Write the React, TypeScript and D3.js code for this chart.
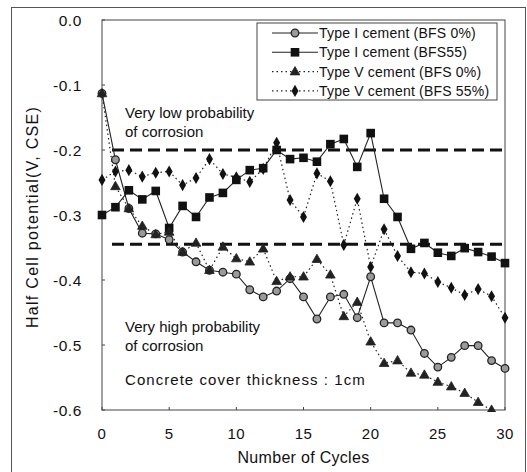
import React from "react";
import * as d3 from "d3";

const cycles = d3.range(0, 31);
const typeI_BFS0 = [-0.113, -0.215, -0.29, -0.328, -0.329, -0.338, -0.357, -0.372, -0.385, -0.388, -0.391, -0.415, -0.426, -0.417, -0.398, -0.426, -0.46, -0.426, -0.422, -0.458, -0.395, -0.466, -0.466, -0.477, -0.513, -0.534, -0.519, -0.501, -0.501, -0.524, -0.536];
const typeI_BFS55 = [-0.3, -0.288, -0.262, -0.276, -0.263, -0.32, -0.286, -0.303, -0.273, -0.266, -0.246, -0.231, -0.228, -0.2, -0.214, -0.212, -0.218, -0.191, -0.183, -0.226, -0.174, -0.275, -0.303, -0.352, -0.343, -0.358, -0.363, -0.351, -0.357, -0.364, -0.374];
const typeV_BFS0 = [-0.113, -0.256, -0.29, -0.317, -0.33, -0.326, -0.357, -0.343, -0.385, -0.349, -0.367, -0.372, -0.352, -0.402, -0.395, -0.395, -0.368, -0.392, -0.456, -0.434, -0.495, -0.528, -0.524, -0.543, -0.546, -0.557, -0.564, -0.574, -0.588, -0.6];
const typeV_BFS55 = [-0.246, -0.233, -0.231, -0.241, -0.235, -0.233, -0.254, -0.243, -0.214, -0.237, -0.242, -0.249, -0.229, -0.189, -0.277, -0.303, -0.236, -0.248, -0.346, -0.275, -0.38, -0.322, -0.363, -0.388, -0.39, -0.403, -0.412, -0.423, -0.414, -0.425, -0.458];
const thresholds = [-0.2, -0.345];
const xTicks = [0, 5, 10, 15, 20, 25, 30];
const yTicks = [0, -0.1, -0.2, -0.3, -0.4, -0.5, -0.6];
const legendLabels = [
  "Type I cement (BFS 0%)",
  "Type I cement (BFS55)",
  "Type V cement (BFS 0%)",
  "Type V cement (BFS 55%)",
];

const W = 527;
const H = 472;
const left = 102, right = 505, top = 20, bottom = 410;
const x = d3.scaleLinear().domain([0, 30]).range([left, right]);
const y = d3.scaleLinear().domain([-0.6, 0]).range([bottom, top]);
const FONT = "'Liberation Sans', Arial, sans-serif";

type Kind = "circle" | "square" | "triangle" | "diamond";

function Marker({ kind, cx, cy }: { kind: Kind; cx: number; cy: number }) {
  if (kind === "circle")
    return <circle cx={cx} cy={cy} r={3.8} fill="#9a9a9a" stroke="#222" strokeWidth={1.3} />;
  if (kind === "square")
    return <rect x={cx - 4.3} y={cy - 4.3} width={8.6} height={8.6} fill="#111" />;
  if (kind === "triangle") {
    const p = d3.symbol().type(d3.symbolTriangle).size(40)();
    return <path d={p as string} transform={`translate(${cx},${cy + 0.5})`} fill="#222" stroke="#222" strokeWidth={0.8} />;
  }
  const p = d3.symbol().type(d3.symbolDiamond).size(42)();
  return <path d={p as string} transform={`translate(${cx},${cy})`} fill="#111" />;
}

const series: { data: number[]; kind: Kind; dash?: string }[] = [
  { data: typeI_BFS0, kind: "circle" },
  { data: typeI_BFS55, kind: "square" },
  { data: typeV_BFS0, kind: "triangle", dash: "1.5 3" },
  { data: typeV_BFS55, kind: "diamond", dash: "1.5 3" },
];

export default function App() {
  const line = d3
    .line<number>()
    .x((_, i) => x(cycles[i]))
    .y((d) => y(d));
  const legX = 257, legY = 23, legW = 240, legH = 77;
  return (
    <svg
      width={W}
      height={H}
      viewBox={`0 0 ${W} ${H}`}
      style={{ position: "absolute", left: 0, top: 0, display: "block", background: "#fff" }}
      fontFamily={FONT}
    >
      <defs>
        <clipPath id="plotclip">
          <rect x={left - 6} y={top - 6} width={right - left + 12} height={bottom - top + 8} />
        </clipPath>
      </defs>
      {/* outer frame */}
      <rect x={11.5} y={7.5} width={514} height={480} fill="none" stroke="#555" strokeWidth={1} />
      {/* plot frame */}
      <rect x={left} y={top} width={right - left} height={bottom - top} fill="none" stroke="#444" strokeWidth={1} />
      {/* ticks */}
      {xTicks.map((t) => (
        <g key={"xt" + t}>
          <line x1={x(t)} x2={x(t)} y1={bottom} y2={bottom - 3} stroke="#444" />
          <text x={x(t)} y={439} textAnchor="middle" fontSize={15} letterSpacing={0.5} fill="#111">
            {t}
          </text>
        </g>
      ))}
      {yTicks.map((t) => (
        <g key={"yt" + t}>
          <line x1={left} x2={left + 3} y1={y(t)} y2={y(t)} stroke="#444" />
          <text x={82} y={y(t) + 5.5} textAnchor="end" fontSize={15.5} letterSpacing={0.6} fill="#111">
            {t === 0 ? "0.0" : t.toFixed(1)}
          </text>
        </g>
      ))}
      {/* axis titles */}
      <text x={(left + right) / 2} y={463} textAnchor="middle" fontSize={16} letterSpacing={0.3} fill="#111">
        Number of Cycles
      </text>
      <text
        transform={`translate(38,${(top + bottom) / 2 + 2}) rotate(-90)`}
        textAnchor="middle"
        fontSize={16}
        letterSpacing={1.3}
        fill="#111"
      >
        Half Cell potential(V, CSE)
      </text>
      {/* threshold lines */}
      {thresholds.map((t) => (
        <line
          key={"th" + t}
          x1={112}
          x2={right}
          y1={y(t)}
          y2={y(t)}
          stroke="#111"
          strokeWidth={3}
          strokeDasharray="12 6"
        />
      ))}
      {/* annotations */}
      <text x={125} y={118} fontSize={15} fill="#111">Very low probability</text>
      <text x={125} y={137} fontSize={15} fill="#111">of corrosion</text>
      <text x={125} y={332} fontSize={15} fill="#111">Very high probability</text>
      <text x={125} y={351} fontSize={15} fill="#111">of corrosion</text>
      <text x={125} y={385} fontSize={15} fill="#111" letterSpacing={1.05}>
        Concrete cover thickness : 1cm
      </text>
      {/* series */}
      <g clipPath="url(#plotclip)">
        {series.map((s, si) => (
          <path
            key={"l" + si}
            d={line(s.data) as string}
            fill="none"
            stroke="#222"
            strokeWidth={s.dash ? 1.2 : 1.1}
            strokeDasharray={s.dash}
          />
        ))}
        {series.map((s, si) =>
          s.data.map((v, i) => <Marker key={`m${si}-${i}`} kind={s.kind} cx={x(cycles[i])} cy={y(v)} />)
        )}
      </g>
      {/* legend */}
      <rect x={legX} y={legY} width={legW} height={legH} fill="#fff" stroke="#444" strokeWidth={1} />
      {series.map((s, i) => {
        const ly = 33 + i * 19.3;
        return (
          <g key={"lg" + i}>
            <line x1={272} x2={318} y1={ly} y2={ly} stroke="#222" strokeWidth={1.1} strokeDasharray={s.dash} />
            <Marker kind={s.kind} cx={295} cy={ly} />
            <text x={319} y={ly + 5} fontSize={14} letterSpacing={0.2} fill="#111">
              {legendLabels[i]}
            </text>
          </g>
        );
      })}
    </svg>
  );
}
